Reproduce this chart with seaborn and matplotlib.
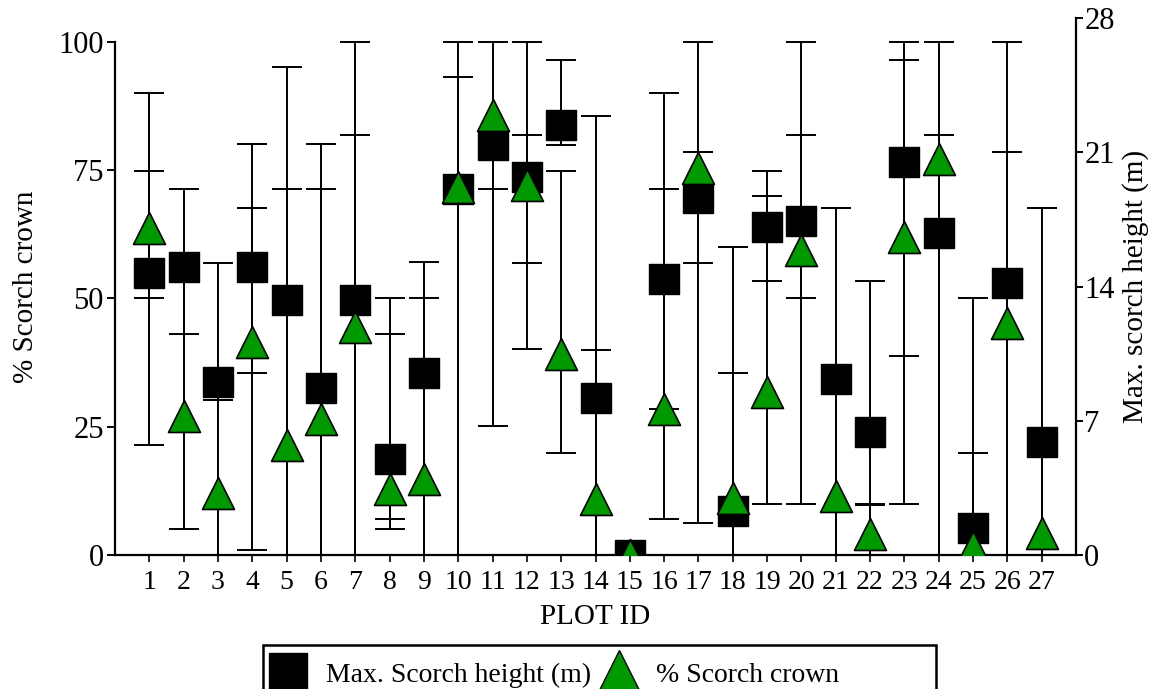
import numpy as np
import pandas as pd
import matplotlib
matplotlib.use("Agg")
import matplotlib.pyplot as plt
from matplotlib.lines import Line2D
from matplotlib.patches import Rectangle
import seaborn as sns

# ---------------- data ----------------
plot_ids = list(range(1, 28))

# Max. scorch height (m) - squares, right axis
height_mean = [14.7, 15.0, 9.0, 15.0, 13.3, 8.7, 13.3, 5.0, 9.5, 19.1,
               21.4, 19.7, 22.4, 8.2, 0.0, 14.4, 18.6, 2.3, 17.1, 17.4,
               9.2, 6.4, 20.5, 16.8, 1.4, 14.2, 5.9]
height_low = [13.4, 11.5, 8.1, 9.5, 0.0, 0.0, 0.0, 1.9, 0.0, 0.0,
              19.1, 15.2, 21.4, 0.0, 0.0, 7.6, 15.2, 0.0, 14.3, 13.4,
              0.0, 2.6, 10.4, 0.0, 0.0, 0.0, 0.0]
height_high = [20.0, 19.1, 15.2, 18.1, 19.1, 19.1, 21.9, 11.5, 13.4, 24.9,
               21.9, 21.9, 25.8, 10.7, 0.0, 19.1, 21.0, 9.5, 18.7, 21.9,
               18.1, 14.3, 25.8, 21.9, 5.3, 21.0, 18.1]

# % Scorch crown - triangles, left axis
crown_mean = [63.6, 27.1, 12.0, 41.4, 21.4, 26.5, 44.5, 12.8, 14.8, 71.7,
              85.8, 72.0, 39.1, 11.0, 0.0, 28.5, 75.3, 11.2, 31.8, 59.4,
              11.5, 4.0, 61.9, 77.1, 1.5, 45.1, 4.3]
crown_low = [21.4, 5.0, 0.0, 0.9, 0.0, 0.0, 0.0, 5.0, 0.0, 0.0,
             25.1, 40.1, 19.9, 0.0, 0.0, 7.0, 6.2, 0.0, 10.0, 9.9,
             0.0, 0.0, 9.9, 0.0, 0.0, 0.0, 0.0]
crown_high = [90.0, 56.0, 30.2, 80.1, 95.0, 80.1, 100.0, 50.0, 57.0, 100.0,
              100.0, 100.0, 74.8, 85.6, 0.0, 90.0, 100.0, 59.9, 74.8, 100.0,
              34.4, 9.9, 100.0, 100.0, 50.0, 100.0, 22.0]

left_ticks = [0, 25, 50, 75, 100]
right_ticks = [0, 7, 14, 21, 28]

df = pd.DataFrame({
    "plot": plot_ids,
    "height": height_mean, "h_lo": height_low, "h_hi": height_high,
    "crown": crown_mean, "c_lo": crown_low, "c_hi": crown_high,
})

# ---------------- style ----------------
sns.set_theme(style="white")
plt.rcParams["font.family"] = ["Liberation Serif", "DejaVu Serif"]
plt.rcParams["text.color"] = "black"
plt.rcParams["axes.labelcolor"] = "black"
plt.rcParams["xtick.color"] = "black"
plt.rcParams["ytick.color"] = "black"

W, H = 1156, 689
fig = plt.figure(figsize=(W / 100, H / 100), dpi=100)
ax = fig.add_axes([115 / W, 1 - 555 / H, (1076 - 115) / W, (555 - 18) / H])
ax2 = ax.twinx()

green = "#009900"
ms_pts = 21
cap = 10.5

# squares (height) on right axis
ax2.errorbar(df["plot"], df["height"],
             yerr=[df["height"] - df["h_lo"], df["h_hi"] - df["height"]],
             fmt="none", ecolor="black", elinewidth=1.4, capsize=cap,
             capthick=1.4, zorder=2)
sns.scatterplot(data=df, x="plot", y="height", ax=ax2, marker="s",
                s=ms_pts ** 2, color="black", edgecolor="black",
                linewidth=1, zorder=3, legend=False)

# triangles (crown) on left axis
ax.errorbar(df["plot"], df["crown"],
            yerr=[df["crown"] - df["c_lo"], df["c_hi"] - df["crown"]],
            fmt="none", ecolor="black", elinewidth=1.4, capsize=cap,
            capthick=1.4, zorder=2)
sns.scatterplot(data=df, x="plot", y="crown", ax=ax, marker="^",
                s=(ms_pts + 2) ** 2, color=green, edgecolor="black",
                linewidth=1.2, zorder=4, legend=False)

ax.set_zorder(ax2.get_zorder() + 1)
ax.patch.set_visible(False)

# axes limits
ax.set_xlim(0, 28)
ax.set_ylim(0, 104.6)
ax2.set_ylim(0, 28)

# spines
for a in (ax, ax2):
    a.spines["top"].set_visible(False)
    for s in a.spines.values():
        s.set_color("black")
        s.set_linewidth(1.6)
ax.spines["right"].set_visible(False)
ax2.spines["left"].set_visible(False)
ax2.spines["bottom"].set_visible(False)
ax.spines["left"].set_bounds(0, 100)

# ticks
ax.set_xticks(plot_ids)
ax.set_xticklabels([str(p) for p in plot_ids], fontsize=20)
ax.set_yticks(left_ticks)
ax.set_yticklabels([str(t) for t in left_ticks], fontsize=22)
ax2.set_yticks(right_ticks)
ax2.set_yticklabels([str(t) for t in right_ticks], fontsize=22)
ax.tick_params(axis="x", direction="out", length=5, width=1.2, pad=6,
               bottom=True, colors="black")
ax.tick_params(axis="y", direction="out", length=6, width=1.4, pad=2,
               left=True, colors="black")
ax2.tick_params(axis="y", direction="out", length=5, width=1.4, pad=1,
                right=True, colors="black")

ax.set_xlabel("PLOT ID", fontsize=21, labelpad=6, color="black")
ax.set_ylabel("% Scorch crown", fontsize=21, labelpad=14, color="black")
ax2.set_ylabel("Max. scorch height (m)", fontsize=21, labelpad=5,
               color="black")

# legend
handles = [
    Line2D([], [], marker="s", linestyle="none", markersize=28,
           markerfacecolor="black", markeredgecolor="black"),
    Line2D([], [], marker="^", linestyle="none", markersize=31,
           markerfacecolor=green, markeredgecolor="black"),
]
labels = ["Max. Scorch height (m)", "% Scorch crown"]
fig.legend(handles, labels, loc="upper left",
           bbox_to_anchor=(252 / W, 1 - 643 / H), ncol=2, frameon=False,
           fontsize=20, handlelength=1.2, handletextpad=0.75,
           columnspacing=0.4, borderpad=0.2)
fig.add_artist(Rectangle((263 / W, -0.05), (936 - 263) / W,
                         0.05 + (689 - 645) / H, transform=fig.transFigure,
                         fill=False, edgecolor="black", linewidth=1.8,
                         clip_on=False))

fig.savefig("out.png", dpi=100)
